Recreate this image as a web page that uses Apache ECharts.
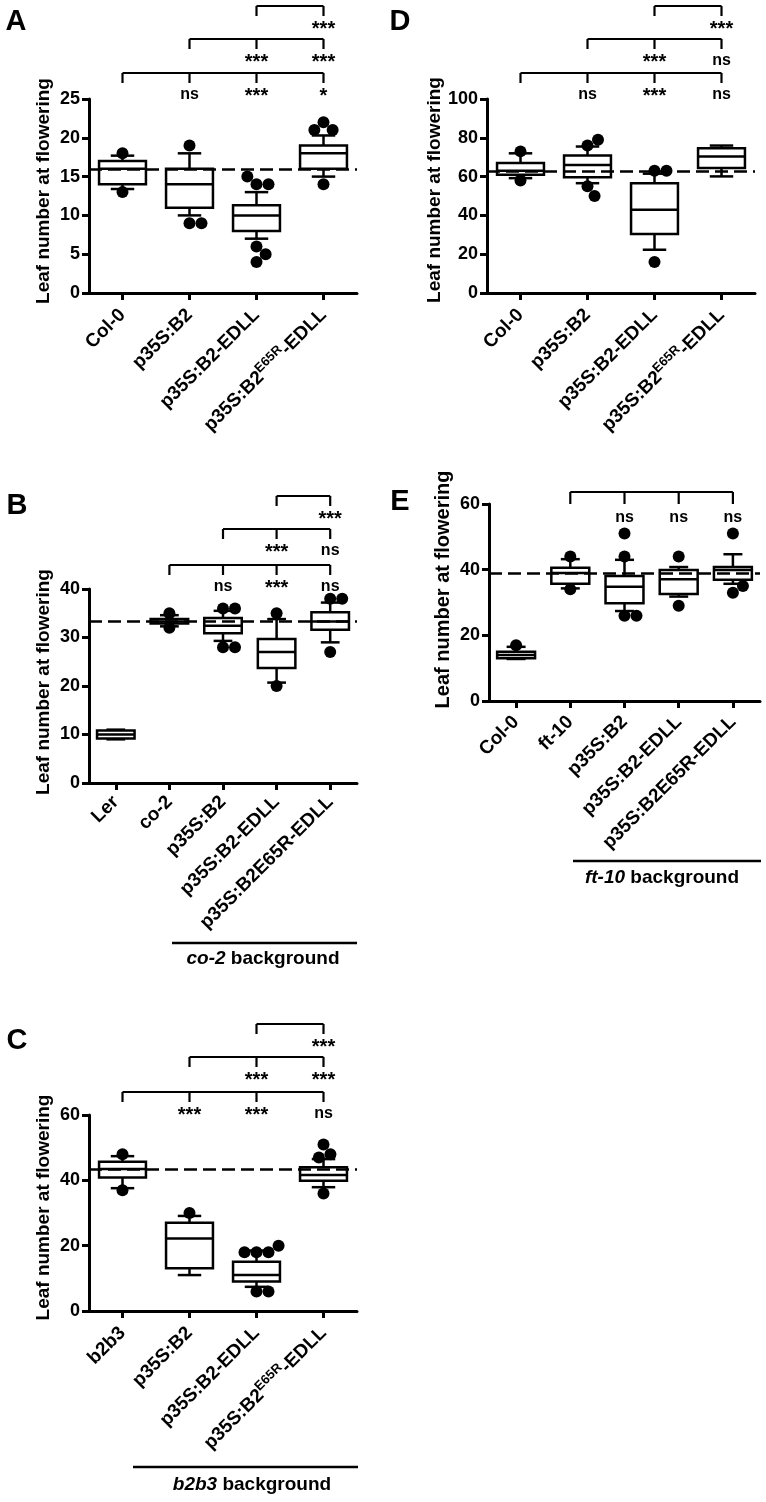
<!DOCTYPE html>
<html>
<head>
<meta charset="utf-8">
<script src="https://cdn.jsdelivr.net/npm/echarts@6/dist/echarts.min.js"></script>
<style>
html,body{margin:0;padding:0;background:#fff;}
#chart{width:766px;height:1502px;}
</style>
</head>
<body>
<div id="chart"></div>
<script>
// ---------------- DATA ----------------
// box: [lower whisker, Q1, median, Q3, upper whisker]
const catsA = ['Col-0', 'p35S:B2', 'p35S:B2-EDLL', 'p35S:B2^{E65R}-EDLL'];
const boxesA = [[13.4, 14, 16, 17, 17.7], [10, 11, 14, 16, 18], [7, 8, 10, 11.3, 13], [15, 16, 18, 19, 20.3]];
const outliersA = [[18, 13], [19, 9, 9], [14, 14, 15, 6, 5, 4], [22, 21, 21, 14]];
const refA = 16;
const yTicksA = [0, 25, 5];
const bracketsA = [[0, [1, 2, 3], ['ns', '***', '*']], [1, [2, 3], ['***', '***']], [2, [3], ['***']]];

const catsB = ['Ler', 'co-2', 'p35S:B2', 'p35S:B2-EDLL', 'p35S:B2E65R-EDLL'];
const boxesB = [[9, 9.2, 10, 10.8, 11], [32.3, 32.9, 33.3, 33.8, 34.6], [29.3, 30.9, 32.4, 34, 35.5], [20.7, 23.7, 27, 29.7, 33.8], [29, 31.6, 33.3, 35.2, 37.2]];
const outliersB = [[], [35, 32], [36, 36, 28, 28], [35, 20], [38, 38, 27]];
const refB = 33.3;
const yTicksB = [0, 40, 10];
const bracketsB = [[1, [2, 3, 4], ['ns', '***', 'ns']], [2, [3, 4], ['***', 'ns']], [3, [4], ['***']]];

const catsC = ['b2b3', 'p35S:B2', 'p35S:B2-EDLL', 'p35S:B2^{E65R}-EDLL'];
const boxesC = [[37.6, 40.9, 43.5, 45.7, 47.4], [11, 13.1, 22.2, 27, 29.1], [7.4, 9, 11, 15.1, 18.5], [37.9, 39.9, 41.6, 44, 46.5]];
const outliersC = [[48, 37], [30], [18, 18, 18, 20, 6, 6], [51, 48, 47, 36]];
const refC = 43.5;
const yTicksC = [0, 60, 20];
const bracketsC = [[0, [1, 2, 3], ['***', '***', 'ns']], [1, [2, 3], ['***', '***']], [2, [3], ['***']]];

const catsD = ['Col-0', 'p35S:B2', 'p35S:B2-EDLL', 'p35S:B2^{E65R}-EDLL'];
const boxesD = [[59.2, 61, 63, 67, 72], [56.6, 59.7, 66, 70.9, 75.5], [22.3, 30.4, 42.9, 56.6, 61.5], [60.1, 64.4, 70.4, 74.6, 76]];
const outliersD = [[73, 58], [76, 79, 55, 50], [63, 63, 16], []];
const refD = 63;
const yTicksD = [0, 100, 20];
const bracketsD = [[0, [1, 2, 3], ['ns', '***', 'ns']], [1, [2, 3], ['***', 'ns']], [2, [3], ['***']]];

const catsE = ['Col-0', 'ft-10', 'p35S:B2', 'p35S:B2-EDLL', 'p35S:B2E65R-EDLL'];
const boxesE = [[12.8, 13, 14, 15, 16.5], [34.3, 35.7, 39, 40.6, 43.2], [27.4, 29.8, 34.8, 38.1, 43], [31.8, 32.6, 37.1, 39.9, 40.8], [35.7, 36.9, 39.9, 40.8, 44.7]];
const outliersE = [[17], [44, 34], [51, 44, 26, 26], [44, 29], [51, 33, 35]];
const refE = 39;
const yTicksE = [0, 60, 20];
const bracketsE = [[1, [2, 3, 4], ['ns', 'ns', 'ns']]];

const yName = 'Leaf number at flowering';

// ---------------- LAYOUT ----------------
const FONT = '"Liberation Sans", Arial, Helvetica, sans-serif';
const panels = [
  {letter: 'A', lx: 16, ly: 22, cats: catsA, boxes: boxesA, outs: outliersA, ref: refA, yt: yTicksA, br: bracketsA,
   grid: {left: 89, top: 99, width: 268, height: 194}, bOff: [26, 60, 93], bTick: 10, bLbl: 22,
   nameGap: 36, nameSize: 19, namePad: 10, lblMargin: 19},
  {letter: 'B', lx: 17, ly: 506, cats: catsB, boxes: boxesB, outs: outliersB, ref: refB, yt: yTicksB, br: bracketsB,
   grid: {left: 89, top: 589, width: 268, height: 194}, bOff: [24, 60, 93], bTick: 10, bLbl: 22,
   nameGap: 36, nameSize: 19, namePad: 8, lblMargin: 16},
  {letter: 'C', lx: 17, ly: 1041, cats: catsC, boxes: boxesC, outs: outliersC, ref: refC, yt: yTicksC, br: bracketsC,
   grid: {left: 89, top: 1115, width: 268, height: 196}, bOff: [23, 58, 91], bTick: 10, bLbl: 22,
   nameGap: 36, nameSize: 19, namePad: 11, lblMargin: 19},
  {letter: 'D', lx: 400, ly: 22, cats: catsD, boxes: boxesD, outs: outliersD, ref: refD, yt: yTicksD, br: bracketsD,
   grid: {left: 487, top: 99, width: 268, height: 194}, bOff: [26, 60, 93], bTick: 10, bLbl: 22,
   nameGap: 36, nameSize: 19, namePad: 12, lblMargin: 19},
  {letter: 'E', lx: 400, ly: 502, cats: catsE, boxes: boxesE, outs: outliersE, ref: refE, yt: yTicksE, br: bracketsE,
   grid: {left: 489, top: 504, width: 271, height: 197}, bOff: [12], bTick: 12, bLbl: 26,
   nameGap: 36, nameSize: 20, namePad: 26, lblMargin: 18}
];

const backgrounds = [
  {x1: 172, x2: 357, y: 943, tx: 263, ty: 959, it: 'co-2'},
  {x1: 573, x2: 761, y: 861, tx: 662, ty: 878, it: 'ft-10'},
  {x1: 133, x2: 358, y: 1467, tx: 252, ty: 1485, it: 'b2b3'}
];

function labelFmt(v) {
  const m = v.match(/^(.*)\^\{(.*)\}(.*)$/);
  if (!m) return '{n|' + v + '}';
  return '{n|' + m[1] + '}{s|' + m[2] + '}{n|' + m[3] + '}';
}

function swarmOffsets(ys, sep) {
  const placed = [];
  return ys.map(y => {
    const cands = [0];
    placed.forEach(q => {
      const dy = y - q.y;
      if (Math.abs(dy) < sep) {
        const dx = Math.sqrt(sep * sep - dy * dy);
        cands.push(q.x + dx, q.x - dx);
      }
    });
    const ok = cands.filter(c => placed.every(q => (c - q.x) * (c - q.x) + (y - q.y) * (y - q.y) >= sep * sep - 0.5));
    ok.sort((a, b) => (Math.abs(a) - Math.abs(b)) || (b - a));
    const x = ok.length ? ok[0] : 0;
    placed.push({x, y});
    return x;
  });
}

const grids = [], xAxes = [], yAxes = [], series = [], graphics = [];

panels.forEach((p, i) => {
  grids.push(Object.assign({outerBoundsMode: 'none', containLabel: false}, p.grid));
  xAxes.push({
    type: 'category', gridIndex: i, data: p.cats, boundaryGap: true,
    axisLine: {show: true, lineStyle: {color: '#000', width: 3}},
    axisTick: {show: true, alignWithLabel: true, length: 7, lineStyle: {color: '#000', width: 3}},
    axisLabel: {
      interval: 0, rotate: 45, margin: p.lblMargin, color: '#000', formatter: labelFmt,
      rich: {
        n: {fontSize: 19, fontWeight: 'bold', fontFamily: FONT, color: '#000', lineHeight: 24},
        s: {fontSize: 13, fontWeight: 'bold', fontFamily: FONT, color: '#000', lineHeight: 13, verticalAlign: 'top'}
      }
    },
    splitLine: {show: false}
  });
  yAxes.push({
    type: 'value', gridIndex: i, min: p.yt[0], max: p.yt[1], interval: p.yt[2],
    axisLine: {show: true, lineStyle: {color: '#000', width: 3}},
    axisTick: {show: true, length: 7, lineStyle: {color: '#000', width: 3}},
    axisLabel: {color: '#000', fontSize: 18, fontWeight: 'bold', fontFamily: FONT, margin: 9},
    splitLine: {show: false},
    name: yName, nameLocation: 'middle', nameGap: p.nameGap,
    nameTextStyle: {color: '#000', fontSize: p.nameSize, fontWeight: 'bold', fontFamily: FONT,
                    padding: [0, 0, 0, p.namePad]}
  });

  // boxes
  series.push({
    type: 'custom', xAxisIndex: i, yAxisIndex: i, z: 2,
    data: p.boxes.map((b, k) => [k].concat(b)),
    encode: {x: 0, y: [1, 2, 3, 4, 5]},
    renderItem: function (params, api) {
      const k = api.value(0);
      const lo = api.coord([k, api.value(1)]);
      const q1 = api.coord([k, api.value(2)]);
      const md = api.coord([k, api.value(3)]);
      const q3 = api.coord([k, api.value(4)]);
      const hi = api.coord([k, api.value(5)]);
      const band = api.size([1, 0])[0];
      const bw = band * 0.7, cw = bw * 0.5;
      const cx = lo[0];
      const st = {stroke: '#000', lineWidth: 2.5, fill: null};
      return {
        type: 'group',
        children: [
          {type: 'line', shape: {x1: cx, y1: q3[1], x2: cx, y2: hi[1]}, style: st},
          {type: 'line', shape: {x1: cx, y1: q1[1], x2: cx, y2: lo[1]}, style: st},
          {type: 'line', shape: {x1: cx - cw / 2, y1: hi[1], x2: cx + cw / 2, y2: hi[1]}, style: st},
          {type: 'line', shape: {x1: cx - cw / 2, y1: lo[1], x2: cx + cw / 2, y2: lo[1]}, style: st},
          {type: 'rect', shape: {x: cx - bw / 2, y: q3[1], width: bw, height: q1[1] - q3[1]},
           style: {stroke: '#000', lineWidth: 2.5, fill: '#fff'}},
          {type: 'line', shape: {x1: cx - bw / 2, y1: md[1], x2: cx + bw / 2, y2: md[1]}, style: st}
        ]
      };
    }
  });

  // outlier points (beeswarm-spread)
  const flat = [];
  p.outs.forEach((arr, k) => arr.forEach(v => flat.push([k, v])));
  series.push({
    type: 'custom', xAxisIndex: i, yAxisIndex: i, z: 3,
    data: flat,
    encode: {x: 0, y: 1},
    renderItem: function (params, api) {
      const idx = params.dataIndex;
      const k = flat[idx][0];
      const same = [];
      flat.forEach((q, j) => { if (q[0] === k) same.push(j); });
      const ys = same.map(j => api.coord([k, flat[j][1]])[1]);
      const offs = swarmOffsets(ys, 12);
      const pos = same.indexOf(idx);
      const c = api.coord([k, flat[idx][1]]);
      return {type: 'circle', shape: {cx: c[0] + offs[pos], cy: c[1], r: 6}, style: {fill: '#000'}};
    }
  });

  // reference dashed line
  series.push({
    type: 'line', xAxisIndex: i, yAxisIndex: i, data: [], z: 5,
    markLine: {
      silent: true, symbol: ['none', 'none'], label: {show: false}, animation: false,
      lineStyle: {color: '#000', width: 2.5, type: [13, 6]},
      data: [{yAxis: p.ref}]
    }
  });

  // significance brackets
  const yMax = p.yt[1];
  series.push({
    type: 'custom', xAxisIndex: i, yAxisIndex: i, z: 6,
    data: p.br.map((b, j) => [b[0], 0]),
    encode: {x: 0, y: 1},
    renderItem: function (params, api) {
      const j = params.dataIndex;
      const b = p.br[j];
      const top = api.coord([0, yMax])[1];
      const Y = top - p.bOff[j];
      const xs = [b[0]].concat(b[1]).map(c => api.coord([c, 0])[0]);
      const st = {stroke: '#000', lineWidth: 2.2};
      const ch = [{type: 'line', shape: {x1: xs[0], y1: Y, x2: xs[xs.length - 1], y2: Y}, style: st}];
      xs.forEach(x => ch.push({type: 'line', shape: {x1: x, y1: Y, x2: x, y2: Y + p.bTick}, style: st}));
      b[1].forEach((c, m) => {
        const lab = b[2][m];
        const star = lab.indexOf('*') >= 0;
        ch.push({
          type: 'text',
          style: {text: lab, x: xs[m + 1], y: Y + p.bLbl + (star ? 1 : 0), align: 'center', verticalAlign: 'middle',
                  fill: '#000', font: 'bold ' + (star ? 20 : 16) + 'px ' + FONT}
        });
      });
      return {type: 'group', children: ch};
    }
  });

  graphics.push({
    type: 'text', x: p.lx, y: p.ly,
    style: {text: p.letter, fill: '#000', font: 'bold 29px ' + FONT, align: 'center', verticalAlign: 'middle'}
  });
});

backgrounds.forEach(b => {
  graphics.push({type: 'line', shape: {x1: b.x1, y1: b.y, x2: b.x2, y2: b.y}, style: {stroke: '#000', lineWidth: 2.5}});
  graphics.push({
    type: 'text', x: b.tx, y: b.ty,
    style: {
      text: '{i|' + b.it + '}{b| background}', align: 'center', verticalAlign: 'middle',
      rich: {
        i: {fontStyle: 'italic', fontWeight: 'bold', fontSize: 19, fontFamily: FONT, fill: '#000'},
        b: {fontWeight: 'bold', fontSize: 19, fontFamily: FONT, fill: '#000'}
      }
    }
  });
});

const chart = echarts.init(document.getElementById('chart'), null, {renderer: 'canvas'});
chart.setOption({
  animation: false,
  backgroundColor: '#fff',
  grid: grids, xAxis: xAxes, yAxis: yAxes, series: series,
  graphic: graphics
});
</script>
</body>
</html>
